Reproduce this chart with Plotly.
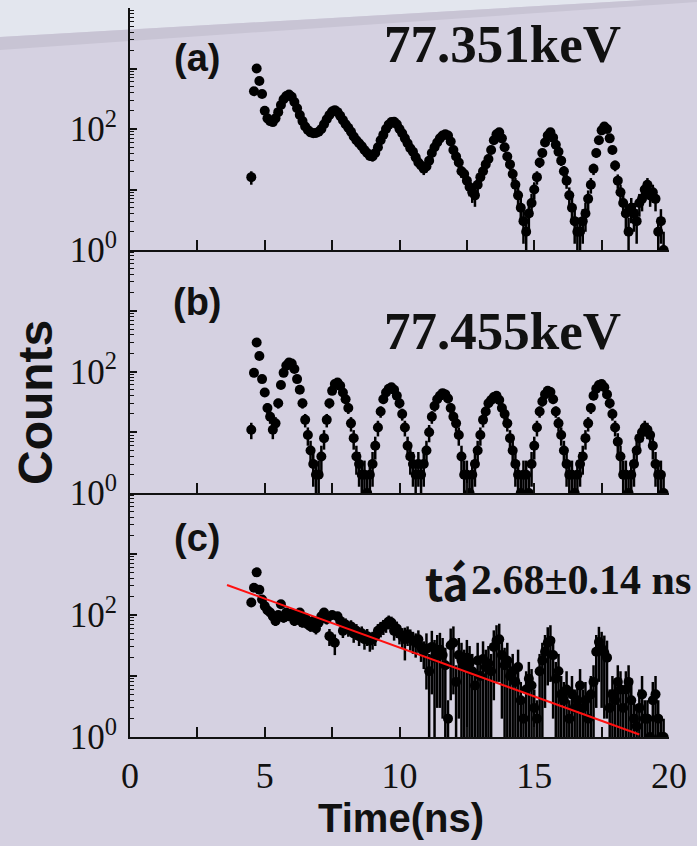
import numpy as np
import plotly.graph_objects as go
from plotly.subplots import make_subplots

# time bins (ns)
time_ns = [4.5, 4.6, 4.7, 4.8, 4.9,
           5.0, 5.1, 5.2, 5.3, 5.4, 5.5, 5.6, 5.7, 5.8, 5.9,
           6.0, 6.1, 6.2, 6.3, 6.4, 6.5, 6.6, 6.7, 6.8, 6.9,
           7.0, 7.1, 7.2, 7.3, 7.4, 7.5, 7.6, 7.7, 7.8, 7.9,
           8.0, 8.1, 8.2, 8.3, 8.4, 8.5, 8.6, 8.7, 8.8, 8.9,
           9.0, 9.1, 9.2, 9.3, 9.4, 9.5, 9.6, 9.7, 9.8, 9.9,
           10.0, 10.1, 10.2, 10.3, 10.4, 10.5, 10.6, 10.7, 10.8, 10.9,
           11.0, 11.1, 11.2, 11.3, 11.4, 11.5, 11.6, 11.7, 11.8, 11.9,
           12.0, 12.1, 12.2, 12.3, 12.4, 12.5, 12.6, 12.7, 12.8, 12.9,
           13.0, 13.1, 13.2, 13.3, 13.4, 13.5, 13.6, 13.7, 13.8, 13.9,
           14.0, 14.1, 14.2, 14.3, 14.4, 14.5, 14.6, 14.7, 14.8, 14.9,
           15.0, 15.1, 15.2, 15.3, 15.4, 15.5, 15.6, 15.7, 15.8, 15.9,
           16.0, 16.1, 16.2, 16.3, 16.4, 16.5, 16.6, 16.7, 16.8, 16.9,
           17.0, 17.1, 17.2, 17.3, 17.4, 17.5, 17.6, 17.7, 17.8, 17.9,
           18.0, 18.1, 18.2, 18.3, 18.4, 18.5, 18.6, 18.7, 18.8, 18.9,
           19.0, 19.1, 19.2, 19.3, 19.4, 19.5, 19.6, 19.7, 19.8]

# (a) 77.351 keV
counts_a = [16, 420, 1000, 620, 380,
            200, 150, 135, 130, 150, 190, 250, 310, 350, 370,
            340, 280, 220, 170, 135, 110, 96, 88, 85, 86,
            90, 100, 120, 145, 170, 195, 205, 190, 165, 140,
            120, 105, 90, 75, 65, 58, 52, 45, 40, 36,
            35, 40, 50, 65, 80, 100, 118, 130, 132, 120,
            100, 85, 70, 58, 48, 42, 34, 28, 25, 22,
            24, 30, 40, 50, 60, 70, 78, 82, 78, 62,
            45, 35, 28, 20, 18, 14, 11, 9, 8, 12,
            16, 20, 26, 32, 45, 65, 82, 88, 70, 50,
            35, 26, 18, 12, 8, 5, 3, 2, 4, 6,
            10, 16, 28, 40, 60, 78, 88, 72, 55, 42,
            30, 20, 14, 8, 5, 3, 2, 2, 3, 4,
            7, 12, 22, 40, 65, 95, 110, 100, 70, 45,
            25, 14, 9, 6, 4, 2, 5, 4, 3, 6,
            7, 10, 12, 8, 9, 7, 2, 3, 1]

# (b) 77.455 keV
counts_b = [11, 95, 300, 180, 75,
            45, 25, 18, 11, 14, 30, 60, 95, 125, 140,
            135, 110, 75, 50, 30, 16, 9, 5, 3, 2,
            2, 4, 8, 16, 30, 48, 62, 66, 58, 45,
            35, 25, 14, 8, 4, 3, 2, 2, 1, 2,
            3, 6, 12, 22, 35, 45, 52, 55, 50, 40,
            30, 20, 12, 6, 4, 3, 2, 3, 2, 3,
            5, 10, 18, 27, 35, 40, 44, 42, 36, 25,
            18, 14, 9, 4, 2, 2, 1, 2, 3, 5,
            9, 16, 22, 30, 34, 38, 40, 34, 25, 20,
            14, 8, 5, 3, 2, 1, 2, 2, 1, 3,
            6, 12, 22, 32, 42, 48, 46, 35, 22, 14,
            9, 5, 3, 2, 2, 1, 2, 3, 4, 8,
            14, 25, 40, 52, 60, 62, 55, 42, 30, 20,
            12, 7, 4, 2, 2, 1, 2, 3, 5, 8,
            10, 12, 11, 9, 6, 3, 2, 2, 1]

# (c) summed spectrum and its error bars
counts_c = [160, 280, 500, 260, 180,
            140, 120, 110, 95, 80, 100, 150, 90, 110, 95,
            105, 80, 85, 110, 75, 90, 70, 65, 80, 60,
            75, 95, 110, 85, 45, 100, 35, 95, 80, 55,
            70, 60, 65, 50, 55, 45, 50, 40, 45, 38,
            40, 45, 55, 60, 65, 70, 78, 75, 55, 60,
            50, 45, 40, 48, 42, 38, 35, 40, 30, 25,
            28, 12, 30, 20, 25, 27, 22, 15, 2, 32,
            35, 8, 22, 18, 14, 20, 16, 12, 7, 18,
            10, 19, 14, 16, 12, 30, 38, 40, 22, 15,
            18, 10, 12, 8, 14, 4, 2, 6, 9, 7,
            3, 2, 12, 18, 25, 35, 38, 22, 9, 12,
            5, 4, 6, 2, 5, 3, 4, 7, 3, 4,
            2, 5, 8, 25, 36, 28, 24, 20, 3, 5,
            4, 8, 6, 3, 6, 8, 4, 2, 1.5, 3,
            5, 2, 2, 1, 4, 5, 2, 1, 1]
errors_c = [25, 35, 50, 35, 28,
            20, 18, 16, 15, 14, 16, 20, 15, 16, 15,
            16, 14, 14, 16, 13, 14, 13, 12, 14, 12,
            14, 15, 16, 15, 14, 16, 13, 16, 15, 13,
            18, 16, 17, 15, 16, 14, 15, 13, 14, 13,
            13, 14, 16, 17, 18, 19, 20, 19, 17, 18,
            17, 16, 22, 17, 16, 15, 15, 16, 13, 12,
            22, 11, 25, 19, 22, 24, 20, 14, 2, 28,
            30, 7, 20, 17, 13, 19, 15, 11, 6, 17,
            9, 18, 13, 15, 11, 26, 30, 32, 20, 14,
            17, 9, 11, 7, 13, 4, 2, 6, 8, 6,
            3, 2, 11, 17, 22, 28, 30, 20, 8, 11,
            5, 4, 6, 2, 5, 3, 4, 6, 3, 4,
            2, 5, 7, 22, 28, 25, 22, 18, 3, 5,
            4, 7, 6, 3, 6, 7, 4, 2, 1.5, 3,
            5, 2, 2, 1, 4, 5, 2, 1, 1]

# exponential fit (straight on log axis)
fit_time = [3.6, 18.9]
fit_counts = [310, 1.1]

panel_tags = ["(a)", "(b)", "(c)"]
energy_labels = ["77.351keV", "77.455keV"]
tau_symbol = "tá"
lifetime_label = "2.68±0.14 ns"
x_ticks = [0, 5, 10, 15, 20]
y_ticks = [1, 10, 100, 1000, 10000]
y_ticktext = ["10<sup>0</sup>", "", "10<sup>2</sup>", "", ""]

W, H = 697, 846
L, R, T, B = 130, 28, 8, 109
pw, ph = W - L - R, H - T - B


def px(x):
    return (x - L) / pw


def py(y):
    return (H - B - y) / ph


serif = "Liberation Serif, Times New Roman, serif"
sans = "Liberation Sans, Arial, sans-serif"
ink = "#111111"
bg = "#d5d1e1"

fig = make_subplots(rows=3, cols=1, shared_xaxes=True, vertical_spacing=0)

for row, counts in enumerate([counts_a, counts_b, counts_c], start=1):
    c = np.array(counts, dtype=float)
    err = np.array(errors_c) if row == 3 else np.sqrt(c)
    fig.add_trace(go.Scatter(
        x=time_ns, y=c, mode="markers",
        marker=dict(color="black", size=10),
        error_y=dict(type="data", array=err, color="black",
                     thickness=2.5, width=0),
        showlegend=False), row=row, col=1)

fig.add_trace(go.Scatter(x=fit_time, y=fit_counts, mode="lines",
                         line=dict(color="#ff1010", width=2),
                         showlegend=False), row=3, col=1)

minor_vals = [m * 10 ** d for d in range(4) for m in range(2, 10)]
doms = [[py(250), 1.0], [py(493), py(250)], [0.0, py(493)]]
for row in range(1, 4):
    fig.update_yaxes(type="log", range=[0, 4], domain=doms[row - 1],
                     tickmode="array", tickvals=y_ticks, ticktext=y_ticktext,
                     ticks="inside", ticklen=7, tickwidth=1.5, tickcolor=ink,
                     minor=dict(tickmode="array", tickvals=minor_vals,
                                ticks="inside", ticklen=4, tickwidth=1.2,
                                tickcolor=ink, showgrid=False),
                     showline=True, linecolor=ink, linewidth=2,
                     showgrid=False, zeroline=False,
                     tickfont=dict(family=serif, size=35, color=ink),
                     ticklabelstandoff=4,
                     row=row, col=1)
    fig.update_xaxes(range=[0, 20], tickmode="array", tickvals=x_ticks,
                     ticks="inside", ticklen=10, tickwidth=1.5, tickcolor=ink,
                     minor=dict(dtick=2.5, ticks="inside", ticklen=10,
                                tickwidth=1.5, tickcolor=ink, showgrid=False),
                     showline=True, linecolor=ink, linewidth=2,
                     showgrid=False, zeroline=False,
                     showticklabels=(row == 3),
                     tickfont=dict(family=serif, size=36, color=ink),
                     ticklabelstandoff=6,
                     row=row, col=1)

# background swoosh
def path(points):
    return "M " + " L ".join(f"{px(a):.4f},{py(b):.4f}" for a, b in points) + " Z"


shapes = [
    dict(type="path", xref="paper", yref="paper", layer="below",
         path=path([(0, -2), (W, -2), (W, -3), (0, 37)]),
         fillcolor="#e3e6ee", line=dict(width=0)),
    dict(type="path", xref="paper", yref="paper", layer="below",
         path=path([(0, 37), (W, -3), (W, 2), (0, 50)]),
         fillcolor="#c8c4d4", line=dict(width=0)),
]

ann = []
for tag, yy in zip(panel_tags, [58, 302, 538]):
    ann.append(dict(text=tag, x=px(197), y=py(yy), xref="paper", yref="paper",
                    showarrow=False, xanchor="center", yanchor="middle",
                    font=dict(family=sans, size=38, color=ink, weight="bold")))
for lab, yy in zip(energy_labels, [44, 331]):
    ann.append(dict(text=lab, x=px(502), y=py(yy), xref="paper", yref="paper",
                    showarrow=False, xanchor="center", yanchor="middle",
                    font=dict(family=serif, size=53, color=ink, weight="bold")))
ann.append(dict(text=tau_symbol, x=px(471), y=py(582), xref="paper", yref="paper",
                showarrow=False, xanchor="right", yanchor="middle",
                font=dict(family="Noto Sans CJK JP", size=44, color=ink, weight="bold")))
ann.append(dict(text=lifetime_label, x=px(693), y=py(580), xref="paper", yref="paper",
                showarrow=False, xanchor="right", yanchor="middle",
                font=dict(family=serif, size=42, color=ink, weight="bold")))
ann.append(dict(text="Counts", x=px(35), y=py(403), xref="paper", yref="paper",
                showarrow=False, xanchor="center", yanchor="middle", textangle=-90,
                font=dict(family=sans, size=48, color=ink, weight="bold")))
ann.append(dict(text="Time(ns)", x=px(401), y=py(818), xref="paper", yref="paper",
                showarrow=False, xanchor="center", yanchor="middle",
                font=dict(family=sans, size=40, color=ink, weight="bold")))

fig.update_layout(width=W, height=H,
                  margin=dict(l=L, r=R, t=T, b=B),
                  paper_bgcolor=bg, plot_bgcolor="rgba(0,0,0,0)",
                  shapes=shapes, annotations=ann, showlegend=False)

fig.write_html("out.html", config={"displayModeBar": False},
               post_script="document.body.style.margin='0';")
